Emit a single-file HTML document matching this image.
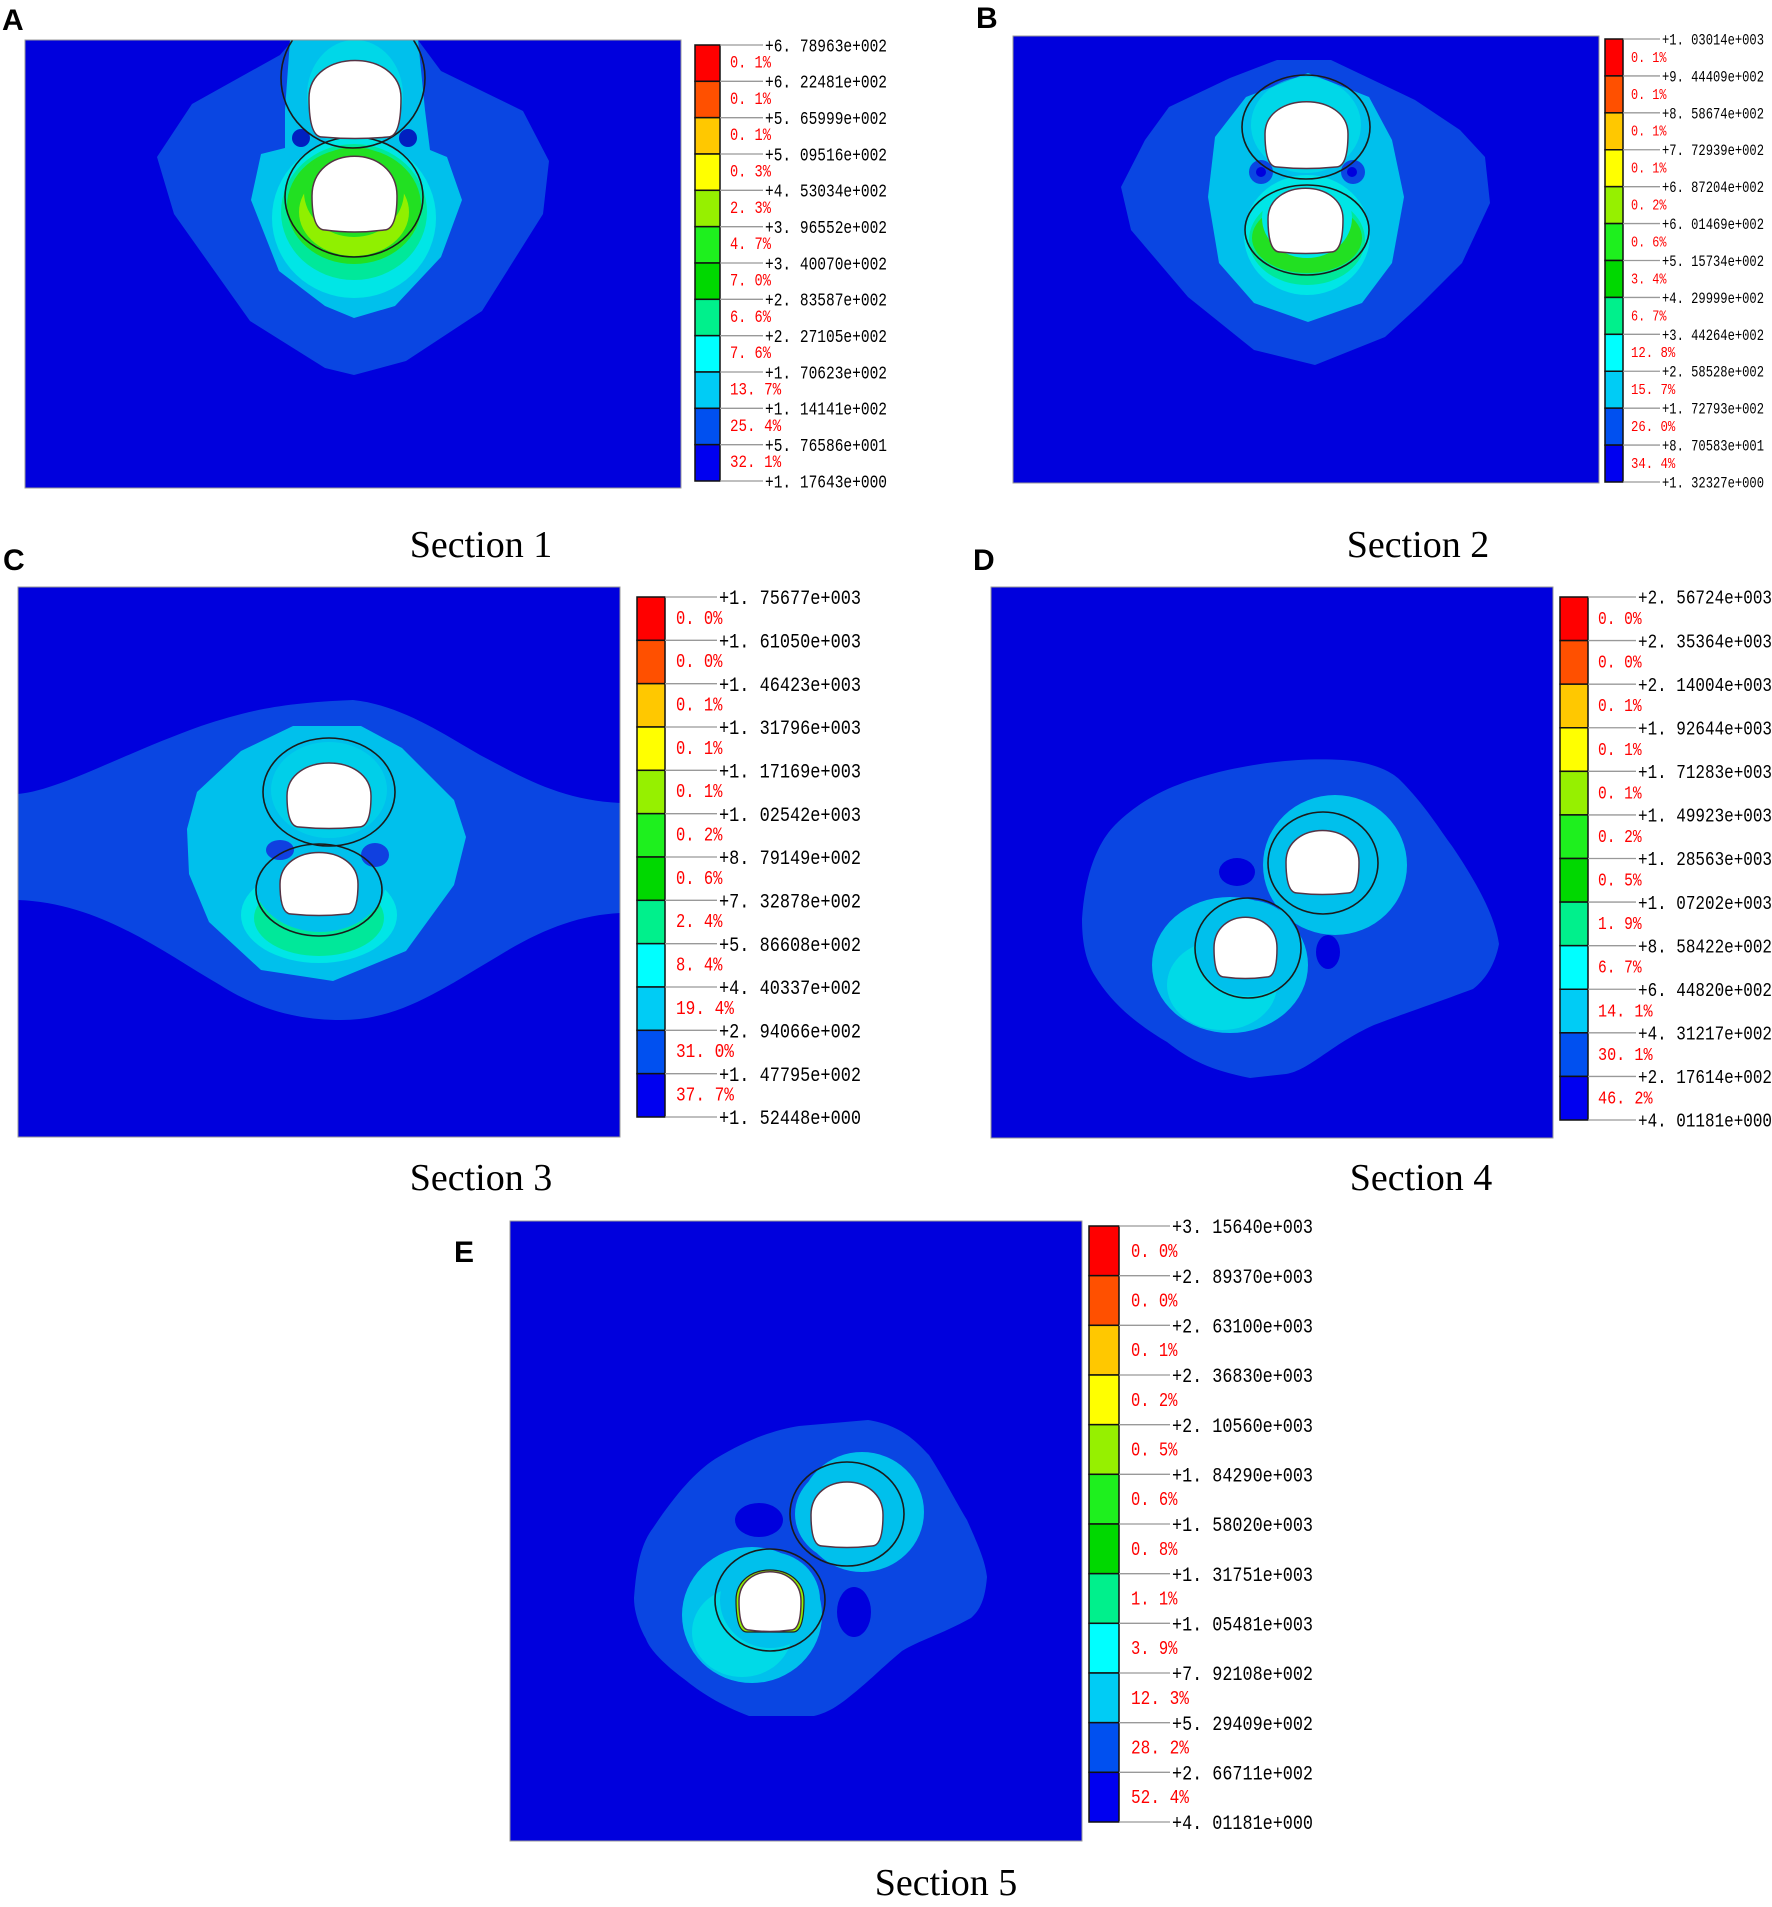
<!DOCTYPE html>
<html><head><meta charset="utf-8">
<style>
html,body{margin:0;padding:0;background:#fff;}
body{width:1772px;height:1902px;position:relative;overflow:hidden;font-family:"Liberation Sans",sans-serif;}
</style></head>
<body>
<svg id="fig" width="1772" height="1902" viewBox="0 0 1772 1902" xmlns="http://www.w3.org/2000/svg">
<defs>
<style>
.bg{fill:#0000dd}.o{fill:#0a46e2}.lb{fill:#00c0ec}.cy{fill:#00e6e6}.mi{fill:#00e89a}.gr{fill:#22e022}.yg{fill:#90f000}
.ring{fill:none;stroke:#1a1a1a;stroke-width:1.6}
.tun{fill:#fff;stroke:#553344;stroke-width:1.5}
.plab{font-family:"Liberation Sans",sans-serif;font-weight:bold;font-size:30px;fill:#000}
.sec{font-family:"Liberation Serif",serif;font-size:38px;fill:#000}
</style>
<clipPath id="cA"><rect x="25" y="40" width="656" height="448"/></clipPath>
<clipPath id="cB"><rect x="1013" y="36" width="586" height="447"/></clipPath>
<clipPath id="cC"><rect x="18" y="587" width="602" height="550"/></clipPath>
<clipPath id="cD"><rect x="991" y="587" width="562" height="551"/></clipPath>
<clipPath id="cE"><rect x="510" y="1221" width="572" height="620"/></clipPath>
</defs>

<!-- Panel A -->
<g clip-path="url(#cA)">
<rect class="bg" x="25" y="40" width="656" height="448"/>
<polygon class="o" points="293,40 418,40 441,71 523,111 549,161 543,214 482,311 406,361 354,375 325,368 250,321 174,214 157,157 192,104 280,55"/>
<polygon class="lb" points="290,40 418,40 425,110 430,150 447,157 462,200 441,257 395,306 354,318 325,306 279,271 251,200 261,154 285,148 285,110"/>
<ellipse class="cy" cx="355" cy="95" rx="48" ry="55" opacity="0.6"/>
<ellipse class="cy" cx="354" cy="218" rx="82" ry="80"/>
<ellipse class="mi" cx="354" cy="212" rx="73" ry="68"/>
<ellipse class="gr" cx="354" cy="206" rx="67" ry="58"/>
<ellipse class="yg" cx="354" cy="212" rx="55" ry="44"/>
<ellipse class="gr" cx="354" cy="192" rx="50" ry="45"/>
<circle cx="301" cy="138" r="9" fill="#0020c0"/>
<circle cx="408" cy="138" r="9" fill="#0020c0"/>
<ellipse class="ring" cx="353" cy="78" rx="72" ry="70"/>
<ellipse class="ring" cx="354" cy="197" rx="69" ry="60"/>
<path class="tun" d="M322,137 Q309,137 309,98 C309,48 401,48 401,98 Q401,137 388,137 Q355,140 322,137 Z"/>
<path class="tun" d="M325,230 Q312,230 312,196 C312,143 397,143 397,196 Q397,230 384,230 Q355,234 325,230 Z"/>
</g>
<rect x="25" y="40" width="656" height="448" fill="none" stroke="#999" stroke-width="1"/>
<text class="plab" x="2" y="30">A</text>
<text class="sec" x="481" y="557" text-anchor="middle">Section 1</text>

<!-- Panel B -->
<g clip-path="url(#cB)">
<rect class="bg" x="1013" y="36" width="586" height="447"/>
<polygon class="o" points="1121,187 1145,140 1169,107 1230,78 1277,60 1331,60 1415,100 1460,130 1485,157 1490,203 1462,263 1420,305 1385,337 1315,365 1254,350 1188,297 1131,230"/>
<polygon class="lb" points="1208,197 1215,137 1246,97 1308,73 1369,97 1392,140 1404,197 1392,263 1362,303 1308,322 1254,303 1219,263"/>
<ellipse class="cy" cx="1307" cy="235" rx="63" ry="60"/>
<ellipse class="cy" cx="1306" cy="125" rx="55" ry="48" opacity="0.6"/>
<ellipse class="mi" cx="1307" cy="240" rx="58" ry="45"/>
<ellipse class="gr" cx="1307" cy="238" rx="55" ry="35"/>
<ellipse class="cy" cx="1307" cy="218" rx="45" ry="40"/>
<circle cx="1261" cy="172" r="12" fill="#0a46e2"/>
<circle cx="1353" cy="172" r="12" fill="#0a46e2"/>
<circle cx="1261" cy="172" r="5" fill="#0000dd"/>
<circle cx="1352" cy="172" r="5" fill="#0000dd"/>
<ellipse class="ring" cx="1306" cy="127" rx="64" ry="52"/>
<ellipse class="ring" cx="1307" cy="230" rx="62" ry="45"/>
<path class="tun" d="M1277,167 Q1265,167 1265,134 C1265,91 1348,91 1348,134 Q1348,167 1336,167 Q1306,170 1277,167 Z"/>
<path class="tun" d="M1280,252 Q1268,252 1268,219 C1268,178 1343,178 1343,219 Q1343,252 1331,252 Q1306,255 1280,252 Z"/>
</g>
<rect x="1013" y="36" width="586" height="447" fill="none" stroke="#999" stroke-width="1"/>
<text class="plab" x="976" y="28">B</text>
<text class="sec" x="1418" y="557" text-anchor="middle">Section 2</text>

<!-- Panel C -->
<g clip-path="url(#cC)">
<rect class="bg" x="18" y="587" width="602" height="550"/>
<path class="o" d="M18,794 C60,790 120,755 201,726 C250,710 281,703 353,700 C400,705 442,733 480,755 C522,777 560,800 620,803 L620,913 C580,915 542,929 500,955 C442,989 400,1020 341,1020 C300,1020 261,1011 220,985 C161,951 100,903 18,900 Z"/>
<polygon class="lb" points="187,829 197,792 241,751 293,726 361,726 402,748 454,800 466,837 454,885 406,951 333,981 261,970 209,922 189,874"/>
<ellipse class="cy" cx="319" cy="915" rx="78" ry="48"/>
<ellipse class="mi" cx="319" cy="918" rx="65" ry="38"/>
<ellipse class="lb" cx="320" cy="880" rx="66" ry="52"/>
<ellipse class="lb" cx="329" cy="790" rx="68" ry="60"/>
<ellipse class="cy" cx="329" cy="790" rx="58" ry="48" opacity="0.4"/>
<ellipse cx="280" cy="850" rx="14" ry="10" fill="#1040e0"/>
<ellipse cx="375" cy="855" rx="14" ry="12" fill="#1040e0"/>
<ellipse class="ring" cx="329" cy="792" rx="66" ry="54"/>
<ellipse class="ring" cx="319" cy="890" rx="63" ry="46"/>
<path class="tun" d="M299,827 Q287,827 287,796 C287,752 371,752 371,796 Q371,827 359,827 Q329,830 299,827 Z"/>
<path class="tun" d="M291,914 Q280,914 280,884 C280,842 358,842 358,884 Q358,914 347,914 Q319,917 291,914 Z"/>
</g>
<rect x="18" y="587" width="602" height="550" fill="none" stroke="#999" stroke-width="1"/>
<text class="plab" x="3" y="570">C</text>
<text class="sec" x="481" y="1190" text-anchor="middle">Section 3</text>

<!-- Panel D -->
<g clip-path="url(#cD)">
<rect class="bg" x="991" y="587" width="562" height="551"/>
<path class="o" d="M1082,919 C1085,870 1100,840 1115,825 C1150,790 1190,780 1219,772 C1270,760 1310,758 1343,760 C1370,762 1390,770 1400,780 C1425,805 1440,830 1452,846 C1475,880 1495,915 1499,944 C1495,965 1485,980 1473,989 C1430,1005 1400,1015 1374,1025 C1330,1045 1310,1070 1286,1074 L1250,1078 C1210,1070 1190,1060 1167,1042 C1130,1020 1110,1000 1095,976 C1085,960 1082,940 1082,919 Z"/>
<ellipse class="lb" cx="1335" cy="865" rx="72" ry="70"/>
<ellipse class="lb" cx="1230" cy="965" rx="78" ry="68"/>
<ellipse class="cy" cx="1222" cy="985" rx="55" ry="45" opacity="0.7"/>
<ellipse class="lb" cx="1248" cy="948" rx="52" ry="48"/>
<ellipse class="lb" cx="1323" cy="863" rx="46" ry="42"/>
<ellipse cx="1237" cy="872" rx="18" ry="14" fill="#0000dd"/>
<ellipse cx="1328" cy="952" rx="12" ry="17" fill="#0000dd"/>
<ellipse class="ring" cx="1323" cy="863" rx="55" ry="51"/>
<ellipse class="ring" cx="1248" cy="948" rx="53" ry="50"/>
<path class="tun" d="M1297,893 Q1286,893 1286,862 C1286,820 1359,820 1359,862 Q1359,893 1348,893 Q1322,896 1297,893 Z"/>
<path class="tun" d="M1224,977 Q1214,977 1214,948 C1214,907 1277,907 1277,948 Q1277,977 1267,977 Q1245,980 1224,977 Z"/>
</g>
<rect x="991" y="587" width="562" height="551" fill="none" stroke="#999" stroke-width="1"/>
<text class="plab" x="973" y="570">D</text>
<text class="sec" x="1421" y="1190" text-anchor="middle">Section 4</text>

<!-- Panel E -->
<g clip-path="url(#cE)">
<rect class="bg" x="510" y="1221" width="572" height="620"/>
<path class="o" d="M634,1598 C636,1570 640,1545 653,1528 C675,1495 695,1472 715,1459 C750,1438 775,1430 799,1426 L868,1420 C900,1425 915,1440 929,1455 C945,1480 955,1500 967,1520 C978,1545 985,1560 987,1577 C985,1600 980,1610 971,1618 C940,1635 920,1640 902,1651 C885,1665 870,1680 860,1688 C840,1705 830,1712 814,1716 L749,1716 C720,1705 700,1692 684,1679 C665,1665 650,1650 646,1639 C638,1625 634,1610 634,1598 Z"/>
<ellipse class="lb" cx="862" cy="1512" rx="62" ry="60"/>
<ellipse class="lb" cx="752" cy="1615" rx="70" ry="68"/>
<ellipse class="cy" cx="742" cy="1632" rx="50" ry="45" opacity="0.7"/>
<ellipse class="lb" cx="770" cy="1600" rx="50" ry="48"/>
<ellipse class="lb" cx="847" cy="1514" rx="52" ry="48"/>
<ellipse cx="759" cy="1520" rx="24" ry="17" fill="#0000dd"/>
<ellipse cx="854" cy="1612" rx="17" ry="25" fill="#0000dd"/>
<ellipse class="ring" cx="847" cy="1514" rx="57" ry="52"/>
<ellipse class="ring" cx="770" cy="1600" rx="55" ry="51"/>
<path d="M747,1632 Q736,1632 736,1600 C736,1560 804,1560 804,1600 Q804,1632 793,1632 Z" fill="#90f000" stroke="#222" stroke-width="1.2"/>
<path class="tun" d="M822,1546 Q811,1546 811,1515 C811,1471 883,1471 883,1515 Q883,1546 872,1546 Q847,1549 822,1546 Z"/>
<path class="tun" d="M749,1630 Q739,1630 739,1601 C739,1562 801,1562 801,1601 Q801,1630 791,1630 Q770,1633 749,1630 Z"/>
</g>
<rect x="510" y="1221" width="572" height="620" fill="none" stroke="#999" stroke-width="1"/>
<text class="plab" x="454" y="1262">E</text>
<text class="sec" x="946" y="1895" text-anchor="middle">Section 5</text>

<g id="legends"></g>
</svg>

<script>
// Legend data (values and percentages)
const legendColors = ["#ff0000","#ff5000","#ffc800","#ffff00","#96f000","#1ef01e","#00d800","#00f08c","#00ffff","#00ccf5","#0050f0","#0000f0"];
const valuesA = ["+6. 78963e+002","+6. 22481e+002","+5. 65999e+002","+5. 09516e+002","+4. 53034e+002","+3. 96552e+002","+3. 40070e+002","+2. 83587e+002","+2. 27105e+002","+1. 70623e+002","+1. 14141e+002","+5. 76586e+001","+1. 17643e+000"];
const pctA = ["0. 1%","0. 1%","0. 1%","0. 3%","2. 3%","4. 7%","7. 0%","6. 6%","7. 6%","13. 7%","25. 4%","32. 1%"];
const valuesB = ["+1. 03014e+003","+9. 44409e+002","+8. 58674e+002","+7. 72939e+002","+6. 87204e+002","+6. 01469e+002","+5. 15734e+002","+4. 29999e+002","+3. 44264e+002","+2. 58528e+002","+1. 72793e+002","+8. 70583e+001","+1. 32327e+000"];
const pctB = ["0. 1%","0. 1%","0. 1%","0. 1%","0. 2%","0. 6%","3. 4%","6. 7%","12. 8%","15. 7%","26. 0%","34. 4%"];
const valuesC = ["+1. 75677e+003","+1. 61050e+003","+1. 46423e+003","+1. 31796e+003","+1. 17169e+003","+1. 02542e+003","+8. 79149e+002","+7. 32878e+002","+5. 86608e+002","+4. 40337e+002","+2. 94066e+002","+1. 47795e+002","+1. 52448e+000"];
const pctC = ["0. 0%","0. 0%","0. 1%","0. 1%","0. 1%","0. 2%","0. 6%","2. 4%","8. 4%","19. 4%","31. 0%","37. 7%"];
const valuesD = ["+2. 56724e+003","+2. 35364e+003","+2. 14004e+003","+1. 92644e+003","+1. 71283e+003","+1. 49923e+003","+1. 28563e+003","+1. 07202e+003","+8. 58422e+002","+6. 44820e+002","+4. 31217e+002","+2. 17614e+002","+4. 01181e+000"];
const pctD = ["0. 0%","0. 0%","0. 1%","0. 1%","0. 1%","0. 2%","0. 5%","1. 9%","6. 7%","14. 1%","30. 1%","46. 2%"];
const valuesE = ["+3. 15640e+003","+2. 89370e+003","+2. 63100e+003","+2. 36830e+003","+2. 10560e+003","+1. 84290e+003","+1. 58020e+003","+1. 31751e+003","+1. 05481e+003","+7. 92108e+002","+5. 29409e+002","+2. 66711e+002","+4. 01181e+000"];
const pctE = ["0. 0%","0. 0%","0. 1%","0. 2%","0. 5%","0. 6%","0. 8%","1. 1%","3. 9%","12. 3%","28. 2%","52. 4%"];

const NS = "http://www.w3.org/2000/svg";
const root = document.getElementById("legends");
function mk(tag, attrs, parent){const e=document.createElementNS(NS,tag);for(const k in attrs)e.setAttribute(k,attrs[k]);parent.appendChild(e);return e;}

function legend(id, vals, pcts, L){
  const g = mk("g",{},root);
  
  
  const n = pcts.length;
  const seg = (L.y1-L.y0)/n;
  const yOf = i => L.y0 + i*seg;
  for(let i=0;i<n;i++){
    const r = mk("rect",{x:L.bx,y:yOf(i),width:L.bw,height:seg,fill:legendColors[i],stroke:"#111","stroke-width":1.5},g);
    
    
    const p = mk("text",{x:L.px,y:yOf(i)+seg*0.62,"font-family":"Liberation Mono, monospace","font-size":L.fs*1.15,fill:"#ff0000",textLength:L.fs*0.62*(pcts[i].length-1)*1.1,lengthAdjust:"spacingAndGlyphs"},g);
    p.textContent = pcts[i];
    
    
  }
  for(let i=0;i<vals.length;i++){
    const y = yOf(i);
    const ln = mk("line",{x1:L.bx+L.bw,y1:y,x2:L.lx-2,y2:y,stroke:"#999","stroke-width":1.3},g);
    
    
    const t = mk("text",{x:L.lx,y:y+L.fs*0.42,"font-family":"Liberation Mono, monospace","font-size":L.fs*1.2,fill:"#000",textLength:L.tw,lengthAdjust:"spacingAndGlyphs"},g);
    t.textContent = vals[i];
    
    
  }
}
legend("a", valuesA, pctA, {bx:695,bw:25,y0:45,y1:481,lx:765,tw:122,px:730,fs:15});
legend("b", valuesB, pctB, {bx:1605,bw:18,y0:39,y1:482,lx:1662,tw:102,px:1631,fs:13});
legend("c", valuesC, pctC, {bx:637,bw:28,y0:597,y1:1117,lx:719,tw:142,px:676,fs:17});
legend("d", valuesD, pctD, {bx:1560,bw:28,y0:597,y1:1120,lx:1638,tw:134,px:1598,fs:16});
legend("e", valuesE, pctE, {bx:1089,bw:30,y0:1226,y1:1822,lx:1172,tw:141,px:1131,fs:17});
</script>
</body></html>
